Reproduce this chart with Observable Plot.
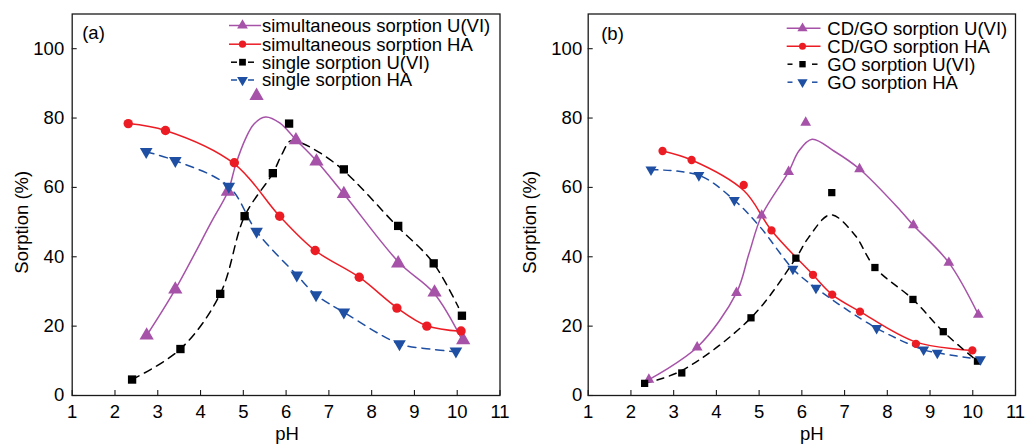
<!DOCTYPE html>
<html><head><meta charset="utf-8">
<script src="https://cdn.jsdelivr.net/npm/d3@7"></script>
<script src="https://cdn.jsdelivr.net/npm/@observablehq/plot@0.6"></script>
<style>
body{margin:0;background:#fff}
#wrap{position:relative;width:1025px;height:444px;overflow:hidden}
#wrap > svg{position:absolute;top:0}
</style>
</head><body><div id="wrap"></div>
<script>
// ---------- axis ticks ----------
const xTicks = [1,2,3,4,5,6,7,8,9,10,11];
const yTicks = [0,20,40,60,80,100];

// ---------- panel (a) measured points ----------
const aSimUpH  = [2.74,3.41,4.64,5.31,6.23,6.71,7.35,8.62,9.47,10.14];
const aSimUVal = [17.3,30.6,58.8,86.4,73.6,67.5,58.1,38.1,29.7,16.0];
const aSimHApH  = [2.31,3.18,4.79,5.85,6.68,7.71,8.59,9.29,10.09];
const aSimHAVal = [78.4,76.4,67.1,51.7,41.8,34.1,25.2,20.0,18.6];
const aSinUpH  = [2.40,3.53,4.46,5.03,5.69,6.07,7.35,8.62,9.45,10.11];
const aSinUVal = [4.6,13.4,29.3,51.7,64.1,78.4,65.2,48.9,38.1,23.0];
const aSinHApH  = [2.73,3.41,4.66,5.31,6.25,6.70,7.35,8.65,9.97];
const aSinHAVal = [70.3,67.7,60.3,47.3,34.7,29.0,24.0,14.9,12.8];

// ---------- panel (a) fitted curves ----------
const aFitSimUpH  = [2.74,3.41,4.27,4.64,4.82,5.05,5.25,5.52,5.85,6.24,6.69,7.35,8.65,9.45,10.14];
const aFitSimUVal = [17.3,30.6,50.4,58.8,66.5,74.0,78.3,80.3,78.6,73.6,67.9,58.1,38.2,29.6,15.4];
const aFitSimHApH  = [2.31,3.18,4.79,5.85,6.68,7.71,8.59,9.29,10.09];
const aFitSimHAVal = [78.4,76.4,66.8,51.7,41.8,34.1,25.3,20.1,18.5];
const aFitSinUpH  = [2.40,3.53,4.46,5.03,5.69,5.90,6.10,6.34,7.19,8.59,9.43,10.03];
const aFitSinUVal = [4.6,13.4,29.3,51.7,64.1,69.5,73.4,72.9,66.5,48.9,38.4,25.4];
const aFitSinHApH  = [2.73,3.41,4.66,5.31,6.25,6.70,7.35,8.65,9.37,9.97];
const aFitSinHAVal = [70.3,67.7,60.3,47.3,34.7,29.0,24.0,14.9,13.4,12.6];

// ---------- panel (b) measured points ----------
const bCDUpH  = [2.42,3.55,4.47,5.06,5.69,6.09,7.35,8.61,9.44,10.13];
const bCDUVal = [4.6,13.9,29.6,51.9,64.5,78.7,65.3,49.1,38.3,23.3];
const bCDHApH  = [2.74,3.42,4.64,5.29,6.26,6.71,7.36,8.67,9.99];
const bCDHAVal = [70.5,67.9,60.7,47.6,34.8,29.1,24.2,14.9,13.0];
const bGOUpH  = [2.32,3.19,4.81,5.86,6.70,7.71,8.60,9.31,10.11];
const bGOUVal = [3.5,6.5,22.4,39.6,58.5,36.9,27.7,18.4,9.9];
const bGOHApH  = [2.47,3.59,4.42,5.79,6.33,7.75,8.85,9.17,10.18];
const bGOHAVal = [65.1,63.5,56.3,36.5,31.0,19.4,13.2,12.3,10.4];

// ---------- panel (b) fitted curves ----------
const bFitCDUpH  = [2.42,3.55,4.47,4.76,5.06,5.69,5.93,6.24,6.75,7.35,8.31,8.61,9.44,10.13];
const bFitCDUVal = [4.6,13.9,29.6,40.8,51.9,64.5,70.5,73.9,70.5,65.3,53.3,49.1,38.3,23.3];
const bFitCDHApH  = [2.74,3.42,4.64,5.29,6.26,6.71,7.36,8.67,9.99];
const bFitCDHAVal = [70.5,67.9,59.1,47.6,34.8,29.1,24.2,15.4,13.0];
const bFitGOUpH  = [2.32,3.19,4.81,5.86,6.16,6.67,7.22,7.71,8.60,9.31,10.11];
const bFitGOUVal = [3.5,7.2,22.4,39.6,45.6,52.1,46.6,36.9,27.7,18.4,9.9];
const bFitGOHApH  = [2.47,3.59,4.42,5.03,5.79,6.33,7.75,8.85,9.17,10.18];
const bFitGOHAVal = [65.1,63.5,56.3,48.5,36.5,31.0,19.4,13.2,12.3,10.4];

// ---------- legend labels ----------
const aNames = ["simultaneous sorption U(VI)","simultaneous sorption HA","single sorption U(VI)","single sorption HA"];
const bNames = ["CD/GO sorption U(VI)","CD/GO sorption HA","GO sorption U(VI)","GO sorption HA"];

const PURPLE = "#A652A8", RED = "#EC1C24", BLACK = "#000000", BLUE = "#1E4FA2";
const FONT = "'Liberation Sans', Arial, Helvetica, sans-serif";

function makePanel(cfg) {
  const H = 444, mt = 13.5, mb = 49;
  const innerW = cfg.width - cfg.ml - cfg.mr;
  const innerH = H - mt - mb;
  const s = cfg.series;
  const marks = [
    Plot.frame({stroke: "#1a1a1a", strokeWidth: 1.3}),
    Plot.axisX(xTicks, {tickSize: 0, tickPadding: 9, label: null}),
    Plot.axisY(yTicks, {tickSize: 0, tickPadding: cfg.ypad, label: null}),
    Plot.tickX(xTicks, {x: d => d, insetTop: innerH - 5, stroke: "#1a1a1a", strokeWidth: 1.1}),
    Plot.tickY(yTicks, {y: d => d, insetRight: innerW - 5, stroke: "#1a1a1a", strokeWidth: 1.1}),
  ];
  for (const e of s) {
    marks.push(Plot.line(e.fy, {x: e.fx, y: e.fy, curve: "catmull-rom", stroke: e.color,
      strokeWidth: 1.5, strokeDasharray: e.dash || null}));
  }
  for (const e of s) {
    marks.push(Plot.dot(e.py, {x: e.px, y: e.py, symbol: e.symbol, r: e.r, fill: e.color,
      stroke: "none", rotate: e.rot || 0}));
  }
  marks.push(
    Plot.text([cfg.tag], {text: d => d, frameAnchor: "top-left", dx: cfg.tagDx, dy: cfg.tagDy,
      textAnchor: "start", lineAnchor: "middle"}),
    Plot.text(["Sorption (%)"], {text: d => d, frameAnchor: "left", rotate: -90, dx: cfg.ylabDx, dy: 17.5,
      textAnchor: "middle", lineAnchor: "middle"}),
    Plot.text(["pH"], {text: d => d, frameAnchor: "bottom", dx: cfg.xlabDx, dy: 38.5, lineAnchor: "middle"})
  );
  const svg = Plot.plot({
    width: cfg.width, height: H,
    marginLeft: cfg.ml, marginRight: cfg.mr, marginTop: mt, marginBottom: mb,
    style: {fontFamily: FONT, fontSize: "18.5px", color: "#000", background: "transparent", overflow: "visible"},
    x: {domain: [1, 11]},
    y: {domain: [0, 110]},
    marks
  });
  // legend (inside plot area, top-right)
  const g = d3.select(svg).append("g").attr("font-family", FONT).attr("font-size", "18.5px")
    .attr("text-anchor", "start");
  s.forEach((e, i) => {
    const y = cfg.legY[i];
    const L = cfg.leg;
    const segs = e.dash ? [L.d1, L.d2] : [L.s];
    for (const sg of segs) {
      g.append("line").attr("x1", sg[0]).attr("x2", sg[1]).attr("y1", y).attr("y2", y)
        .attr("stroke", e.color).attr("stroke-width", 1.5);
    }
    const sym = {triangle: d3.symbolTriangle, circle: d3.symbolCircle, square: d3.symbolSquare}[e.symbol];
    g.append("path").attr("d", d3.symbol(sym, Math.PI * e.lr * e.lr)())
      .attr("transform", `translate(${L.m},${y}) rotate(${e.rot || 0})`).attr("fill", e.color);
    g.append("text").attr("x", L.t).attr("y", y).attr("dy", "0.35em").attr("fill", "#000")
      .attr("text-anchor", "start").text(cfg.names[i]);
  });
  return svg;
}

const wrap = document.getElementById("wrap");

const svgA = makePanel({
  width: 512, ml: 71.7, mr: 12.5, ypad: 8, tag: "(a)", tagDx: 10, tagDy: 19.2, ylabDx: -50, xlabDx: 1,
  names: aNames,
  legY: [25.5, 44.2, 62.2, 80],
  leg: {s: [229, 261], d1: [231, 237], d2: [248, 254], m: 242.5, t: 262},
  series: [
    {px: aSimUpH, py: aSimUVal, fx: aFitSimUpH, fy: aFitSimUVal, color: PURPLE, symbol: "triangle", r: 5.3, lr: 4.0},
    {px: aSimHApH, py: aSimHAVal, fx: aFitSimHApH, fy: aFitSimHAVal, color: RED, symbol: "circle", r: 4.7, lr: 3.6},
    {px: aSinUpH, py: aSinUVal, fx: aFitSinUpH, fy: aFitSinUVal, color: BLACK, symbol: "square", r: 4.7, lr: 3.8, dash: "8,6"},
    {px: aSinHApH, py: aSinHAVal, fx: aFitSinHApH, fy: aFitSinHAVal, color: BLUE, symbol: "triangle", r: 4.7, lr: 4.0, rot: 180, dash: "8,6"}
  ]
});
svgA.style.left = "0px";
wrap.appendChild(svgA);

const svgB = makePanel({
  width: 513, ml: 75.7, mr: 10, ypad: 6, tag: "(b)", tagDx: 13, tagDy: 19.8, ylabDx: -57.7, xlabDx: 10,
  names: bNames,
  legY: [28.3, 46.2, 64.2, 82.2],
  leg: {s: [274.7, 308.5], d1: [275.5, 280.5], d2: [300, 305.5], m: 290.5, t: 315.3},
  series: [
    {px: bCDUpH, py: bCDUVal, fx: bFitCDUpH, fy: bFitCDUVal, color: PURPLE, symbol: "triangle", r: 4.0, lr: 3.8},
    {px: bCDHApH, py: bCDHAVal, fx: bFitCDHApH, fy: bFitCDHAVal, color: RED, symbol: "circle", r: 4.15, lr: 3.5},
    {px: bGOUpH, py: bGOUVal, fx: bFitGOUpH, fy: bFitGOUVal, color: BLACK, symbol: "square", r: 4.1, lr: 3.6, dash: "7,6"},
    {px: bGOHApH, py: bGOHAVal, fx: bFitGOHApH, fy: bFitGOHAVal, color: BLUE, symbol: "triangle", r: 4.1, lr: 3.8, rot: 180, dash: "7,6"}
  ]
});
svgB.style.left = "512px";
wrap.appendChild(svgB);
</script>
</body></html>
